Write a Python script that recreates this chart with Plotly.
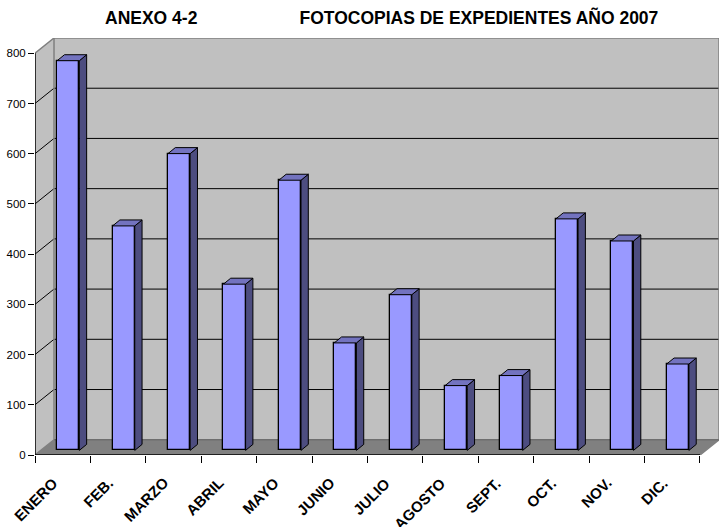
"""Fotocopias de expedientes 2007: pseudo-3D column chart."""
import plotly.graph_objects as go

MONTHS = ["ENERO", "FEB.", "MARZO", "ABRIL", "MAYO", "JUNIO", "JULIO",
          "AGOSTO", "SEPT.", "OCT.", "NOV.", "DIC."]
VALUES = [776, 447, 591, 331, 538, 214, 310, 129, 149, 461, 417, 172]
Y_TICKS = [0, 100, 200, 300, 400, 500, 600, 700, 800]

_FRONT = "#9999FF"
_SIDE = "#4D4D80"
_TOP = "#7373BF"
_WALL = "#C0C0C0"
_FLOOR = "#808080"
_FONT = "Liberation Sans"

# depth of the box and of the bars, in axis units
BOX_DX, BOX_DY = 0.343, 30.4
BAR_DX, BAR_DY = 0.132, 11.9
BAR_W = 0.40
BAR_SHIFT = 0.10
BAR_BASE = 9.2

n = len(MONTHS)
centers = [i + 0.5 + BAR_SHIFT for i in range(n)]

fig = go.Figure()

fig.add_trace(go.Bar(
    x=centers, y=VALUES, base=BAR_BASE, width=BAR_W,
    marker=dict(color=_FRONT, line=dict(color="black", width=1.3)),
    showlegend=False,
))

side_x, side_y, top_x, top_y = [], [], [], []
for c, v in zip(centers, VALUES):
    x0, x1 = c - BAR_W / 2, c + BAR_W / 2
    y0, y1 = BAR_BASE, BAR_BASE + v
    side_x += [x1, x1 + BAR_DX, x1 + BAR_DX, x1, x1, None]
    side_y += [y0, y0 + BAR_DY, y1 + BAR_DY, y1, y0, None]
    top_x += [x0, x0 + BAR_DX, x1 + BAR_DX, x1, x0, None]
    top_y += [y1, y1 + BAR_DY, y1 + BAR_DY, y1, y1, None]

for xs, ys, color in [(side_x, side_y, _SIDE), (top_x, top_y, _TOP)]:
    fig.add_trace(go.Scatter(
        x=xs, y=ys, mode="lines", fill="toself", fillcolor=color,
        line=dict(color="black", width=1), showlegend=False, hoverinfo="skip",
    ))

shapes = []


def poly(points, fill=None, line=None, width=1, layer="below"):
    path = "M " + " L ".join(f"{x} {y}" for x, y in points) + (" Z" if fill else "")
    shapes.append(dict(
        type="path", path=path, layer=layer, fillcolor=fill or "rgba(0,0,0,0)",
        line=dict(color=line or "rgba(0,0,0,0)", width=width if line else 0),
    ))


top = Y_TICKS[-1]
# side wall, back wall, floor
poly([(0, 0), (BOX_DX, BOX_DY), (BOX_DX, top + BOX_DY), (0, top)], fill=_WALL)
poly([(BOX_DX, BOX_DY), (n + BOX_DX, BOX_DY), (n + BOX_DX, top + BOX_DY), (BOX_DX, top + BOX_DY)], fill=_WALL)
poly([(0, 0), (n, 0), (n + BOX_DX, BOX_DY), (BOX_DX, BOX_DY)], fill=_FLOOR)
for t in Y_TICKS[1:-1]:
    poly([(0, t), (BOX_DX, t + BOX_DY), (n + BOX_DX, t + BOX_DY)], line="black")
poly([(0, top), (BOX_DX, top + BOX_DY), (n + BOX_DX, top + BOX_DY), (n + BOX_DX, BOX_DY), (n, 0)], line=_FLOOR, width=1.5)
poly([(BOX_DX, top + BOX_DY), (BOX_DX, BOX_DY), (0, 0)], line=_FLOOR, width=1.5)
poly([(BOX_DX, BOX_DY), (n + BOX_DX, BOX_DY)], line="#6E6E6E", width=1.5)
# front axis lines
poly([(0, top), (0, 0), (n, 0)], line="black", width=1.5, layer="above")

# month labels hang from their top right corner, AGOSTO runs off the page as in the original
annotations = [
    dict(
        x=i + 0.49, y=0, xref="x", yref="y", text=f"<b>{m}</b>", showarrow=False, textangle=-45,
        xanchor="right", yanchor="top", yshift=-18, borderpad=0,
        font=dict(family=_FONT, size=15, color="black"),
    )
    for i, m in enumerate(MONTHS)
]

fig.update_layout(
    width=720, height=527,
    autosize=False,
    paper_bgcolor="white", plot_bgcolor="white",
    margin=dict(l=34.7, r=1.3, t=38, b=71.7),
    title=dict(
        text="ANEXO 4-2" + "\u00a0" * 21 + "FOTOCOPIAS DE EXPEDIENTES AÑO 2007",
        x=105 / 720, xanchor="left", y=1 - 18 / 527, yanchor="middle",
        font=dict(family=_FONT, size=17.5, color="black", weight="bold"),
    ),
    bargap=0, showlegend=False,
    shapes=shapes, annotations=annotations,
    font=dict(family=_FONT, color="black"),
)
fig.update_xaxes(
    range=[0, n + BOX_DX], showgrid=False, zeroline=False, showline=False,
    tickmode="array", tickvals=list(range(n + 1)), ticktext=[""] * (n + 1),
    ticks="outside", ticklen=7, tickwidth=1, tickcolor="black",
)
fig.update_yaxes(
    range=[0, top + BOX_DY], showgrid=False, zeroline=False, showline=False,
    tickmode="array", tickvals=Y_TICKS,
    ticks="outside", ticklen=6, tickwidth=1, tickcolor="black",
    tickfont=dict(family=_FONT, size=11.5, color="black"),
)

fig.write_html(
    "out.html", config=dict(displayModeBar=False),
    post_script="document.body.style.margin = '0'; document.body.style.overflow = 'hidden';",
)
